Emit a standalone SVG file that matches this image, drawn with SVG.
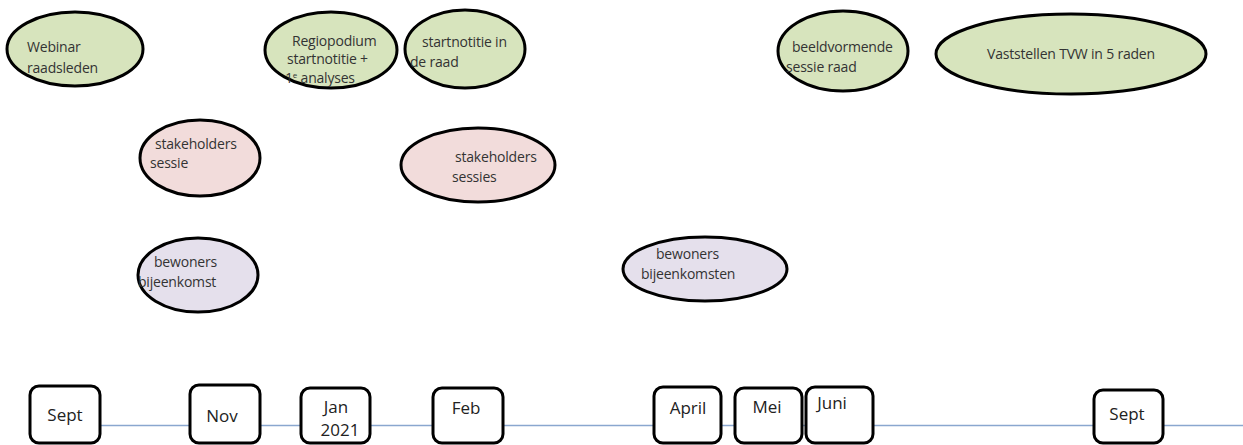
<svg xmlns="http://www.w3.org/2000/svg" width="1243" height="445" viewBox="0 0 1243 445">
<style>
.e{stroke:#000;stroke-width:3}
.g{fill:#d7e4bd}
.p{fill:#f2dcdb}
.l{fill:#e5e0ec}
.t{font-family:"Open Sans",Lato,sans-serif;font-size:14px;fill:#333;letter-spacing:-0.2px}
.b{fill:#fff;stroke:#000;stroke-width:3}
.m{font-family:"Open Sans",Lato,sans-serif;font-size:17px;fill:#222;text-anchor:middle}
</style>
<rect width="1243" height="445" fill="#fff"/>
<g id="connectors">
<line x1="100" y1="425.5" x2="1243" y2="425.5" stroke="#8aa7cf" stroke-width="1.5"/>
</g>
<g id="webinar"><ellipse class="e g" cx="75" cy="49" rx="68" ry="37"/><text class="t" x="27" y="52">Webinar</text><text class="t" x="27" y="73">raadsleden</text></g>
<g id="regiopodium"><ellipse class="e g" cx="331" cy="50" rx="66" ry="38"/><text class="t" x="292" y="46">Regiopodium</text><text class="t" x="287" y="64">startnotitie +</text><text class="t" x="285" y="83">1<tspan font-size="8" dy="-5">e</tspan><tspan dy="5"> analyses</tspan></text></g>
<g id="startnotitie"><ellipse class="e g" cx="465" cy="49" rx="60" ry="39"/><text class="t" x="422" y="47">startnotitie in</text><text class="t" x="410" y="67">de raad</text></g>
<g id="beeldvormende"><ellipse class="e g" cx="843" cy="51" rx="65" ry="40"/><text class="t" x="792" y="52">beeldvormende</text><text class="t" x="786" y="72">sessie raad</text></g>
<g id="vaststellen"><ellipse class="e g" cx="1071" cy="54" rx="135" ry="40"/><text class="t" x="1071" y="59" text-anchor="middle">Vaststellen TVW in 5 raden</text></g>
<g id="stakeholders1"><ellipse class="e p" cx="200" cy="158" rx="60" ry="38"/><text class="t" x="155" y="149">stakeholders</text><text class="t" x="150" y="168">sessie</text></g>
<g id="stakeholders2"><ellipse class="e p" cx="478" cy="165" rx="77" ry="37"/><text class="t" x="455" y="162">stakeholders</text><text class="t" x="452" y="182">sessies</text></g>
<g id="bewoners1"><ellipse class="e l" cx="198" cy="275" rx="60" ry="37"/><text class="t" x="154" y="267">bewoners</text><text class="t" x="138" y="287">bijeenkomst</text></g>
<g id="bewoners2"><ellipse class="e l" cx="705" cy="269" rx="82" ry="32"/><text class="t" x="656" y="259">bewoners</text><text class="t" x="641" y="279">bijeenkomsten</text></g>
<g id="m-sept1"><rect class="b" x="30" y="386" width="70" height="57" rx="9"/><text class="m" x="65" y="421">Sept</text></g>
<g id="m-nov"><rect class="b" x="190" y="385" width="70" height="58" rx="9"/><text class="m" x="222" y="422">Nov</text></g>
<g id="m-jan"><rect class="b" x="301" y="388" width="69" height="55" rx="9"/><text class="m" x="336" y="413">Jan</text><text class="m" x="340" y="436">2021</text></g>
<g id="m-feb"><rect class="b" x="433" y="388" width="70" height="55" rx="9"/><text class="m" x="466" y="414">Feb</text></g>
<g id="m-april"><rect class="b" x="654" y="387" width="67" height="56" rx="9"/><text class="m" x="688" y="414">April</text></g>
<g id="m-mei"><rect class="b" x="735" y="388" width="67" height="55" rx="9"/><text class="m" x="767" y="413">Mei</text></g>
<g id="m-juni"><rect class="b" x="806" y="387" width="67" height="56" rx="9"/><text class="m" x="832" y="409">Juni</text></g>
<g id="m-sept2"><rect class="b" x="1094" y="390" width="69" height="53" rx="9"/><text class="m" x="1127" y="420">Sept</text></g>
</svg>
